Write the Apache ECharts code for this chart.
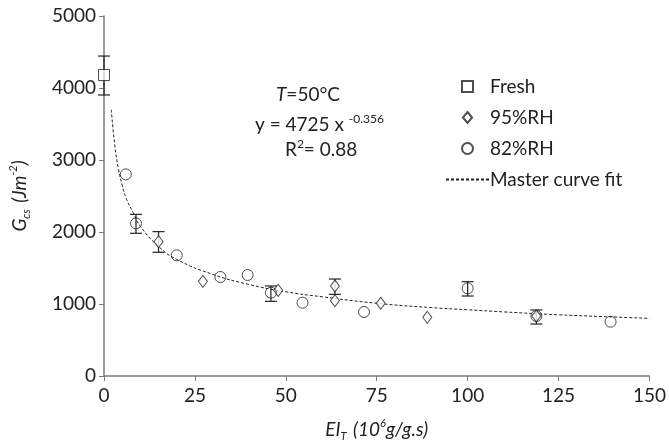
<!DOCTYPE html>
<html>
<head>
<meta charset="utf-8">
<script src="https://cdn.jsdelivr.net/npm/echarts@6/dist/echarts.min.js"></script>
<style>
	html, body { margin: 0; padding: 0; background: #fff; }
	#container { width: 669px; height: 447px; }
</style>
</head>
<body>
<div id="container"></div>
<script>
// values
var xTicks = [0, 25, 50, 75, 100, 125, 150];
var yTicks = [0, 1000, 2000, 3000, 4000, 5000];

var freshData = [[0, 4180]];
var rh95Data = [[15, 1866], [27.2, 1315], [47.9, 1190], [63.5, 1250], [63.5, 1046], [76.1, 1010], [88.9, 815], [118.9, 833]];
var rh82Data = [[6, 2800], [8.8, 2120], [20, 1676], [32, 1375], [39.5, 1403], [45.9, 1157], [54.6, 1018], [71.5, 889], [100, 1218], [118.9, 833], [139.3, 754]];
// [x, low, high]
var errorData = [[0, 3903, 4444], [8.8, 1982, 2245], [15, 1718, 2005], [45.9, 1037, 1250], [63.5, 1134, 1347], [100, 1111, 1310], [118.9, 722, 917]];
// master curve
var curveX = [2, 3, 4, 5, 6, 8, 10, 15, 20, 30, 40, 50, 60, 75, 90, 100, 110, 125, 140, 150];
var curveY = [3700, 3190, 2870, 2650, 2480, 2270, 2080, 1800, 1620, 1410, 1270, 1170, 1100, 1010, 950, 920, 890, 850, 820, 800];

var FONT = 'Lato';
var INK = '#222';

var curveData = [];
for (var i = 0; i < curveX.length; i++) {
	curveData.push([curveX[i], curveY[i]]);
}

var dom = document.getElementById("container");
var myChart = echarts.init(dom, null, { renderer: 'canvas' });

var markStyle = {
	color: '#fff',
	borderColor: INK,
	borderWidth: 1
};

var richName = {
	i: { fontFamily: FONT, fontSize: 19, fontStyle: 'italic', color: INK, lineHeight: 24, verticalAlign: 'middle' },
	sub: { fontFamily: FONT, fontSize: 11, fontStyle: 'italic', color: INK, lineHeight: 24, verticalAlign: 'bottom', padding: [0, 2, 0, 0] },
	sup: { fontFamily: FONT, fontSize: 11, fontStyle: 'italic', color: INK, lineHeight: 24, verticalAlign: 'top' }
};

var option = {
	animation: false,
	backgroundColor: '#fff',
	textStyle: { fontFamily: FONT },
	grid: {
		left: 104,
		right: 17,
		top: 16,
		bottom: 71
	},
	legend: {
		orient: 'vertical',
		left: 440,
		top: 72,
		itemWidth: 43,
		itemHeight: 11,
		itemGap: 12,
		symbolKeepAspect: true,
		selectedMode: false,
		textStyle: { fontFamily: FONT, fontSize: 19, color: INK, padding: [0, 0, 0, -4] },
		data: [
			{ name: 'Fresh', icon: 'path://M0,0L10,0L10,10L0,10Z' },
			{ name: '95%RH', icon: 'path://M5,0L10,6L5,12L0,6Z' },
			{ name: '82%RH', icon: 'path://M5,0A5,5,0,1,1,4.99,0Z' },
			{ name: 'Master curve fit', itemStyle: { color: 'rgba(0,0,0,0)', borderColor: 'rgba(0,0,0,0)', borderWidth: 0 } }
		]
	},
	xAxis: {
		type: 'value',
		min: xTicks[0],
		max: xTicks[xTicks.length - 1],
		interval: 25,
		name: '{i|EI}{sub|T}{i| (10}{sup|6}{i|g/g.s)}',
		nameLocation: 'middle',
		nameGap: 42,
		nameTextStyle: { rich: richName },
		axisLine: { lineStyle: { color: '#7a7a7a', width: 1.5 } },
		axisTick: { show: true, length: 5, lineStyle: { color: '#7a7a7a' } },
		axisLabel: { fontFamily: FONT, fontSize: 19, color: INK, margin: 10 },
		splitLine: { show: false }
	},
	yAxis: {
		type: 'value',
		min: yTicks[0],
		max: yTicks[yTicks.length - 1],
		interval: 1000,
		name: '{i|G}{sub|cs}{i| (Jm}{sup|-2}{i|)}',
		nameLocation: 'middle',
		nameRotate: 90,
		nameGap: 72,
		nameTextStyle: { rich: richName },
		axisLine: { show: true, lineStyle: { color: '#7a7a7a', width: 1.5 } },
		axisTick: { show: true, length: 5, lineStyle: { color: '#7a7a7a' } },
		axisLabel: {
			fontFamily: FONT, fontSize: 19, color: INK, margin: 8,
			formatter: function(value) {
				return '' + value;
			}
		},
		splitLine: { show: false }
	},
	graphic: [{
		type: 'text',
		left: 276,
		top: 85,
		style: {
			text: '{i|T}{n|=50°C}',
			rich: {
				i: { fontFamily: FONT, fontSize: 19, fontStyle: 'italic', fill: INK },
				n: { fontFamily: FONT, fontSize: 19, fill: INK }
			}
		}
	}, {
		type: 'text',
		left: 255,
		top: 113,
		style: {
			text: '{n|y = 4725 x }{sup|-0.356}',
			rich: {
				n: { fontFamily: FONT, fontSize: 19, fill: INK, lineHeight: 24, verticalAlign: 'middle' },
				sup: { fontFamily: FONT, fontSize: 12, fill: INK, lineHeight: 24, verticalAlign: 'top' }
			}
		}
	}, {
		type: 'text',
		left: 285,
		top: 138,
		style: {
			text: '{n|R}{sup|2}{n|= 0.88}',
			rich: {
				n: { fontFamily: FONT, fontSize: 19, fill: INK, lineHeight: 24, verticalAlign: 'middle' },
				sup: { fontFamily: FONT, fontSize: 12, fill: INK, lineHeight: 24, verticalAlign: 'top' }
			}
		}
	}],
	series: [{
		name: 'Master curve fit',
		type: 'line',
		data: curveData,
		smooth: true,
		symbol: 'none',
		lineStyle: { color: INK, width: 1, type: [3, 2] },
		itemStyle: { color: INK },
		z: 1
	}, {
		name: 'error',
		type: 'custom',
		clip: false,
		z: 2,
		data: errorData,
		renderItem: function(params, api) {
			var x = api.value(0);
			var lo = api.coord([x, api.value(1)]);
			var hi = api.coord([x, api.value(2)]);
			var w = 6;
			var st = { stroke: INK, lineWidth: 1.2 };
			return {
				type: 'group',
				children: [
					{ type: 'line', shape: { x1: lo[0], y1: lo[1], x2: hi[0], y2: hi[1] }, style: st },
					{ type: 'line', shape: { x1: lo[0] - w, y1: lo[1], x2: lo[0] + w, y2: lo[1] }, style: st },
					{ type: 'line', shape: { x1: hi[0] - w, y1: hi[1], x2: hi[0] + w, y2: hi[1] }, style: st }
				]
			};
		}
	}, {
		name: 'Fresh',
		type: 'scatter',
		data: freshData,
		symbol: 'rect',
		symbolSize: 11,
		clip: false,
		itemStyle: markStyle,
		z: 3
	}, {
		name: '95%RH',
		type: 'scatter',
		data: rh95Data,
		symbol: 'diamond',
		symbolSize: [9, 12],
		itemStyle: markStyle,
		z: 4
	}, {
		name: '82%RH',
		type: 'scatter',
		data: rh82Data,
		symbol: 'circle',
		symbolSize: 11,
		itemStyle: { color: 'rgba(255,255,255,0)', borderColor: INK, borderWidth: 1 },
		z: 5
	}]
};

myChart.setOption(option, true);
</script>
</body>
</html>
